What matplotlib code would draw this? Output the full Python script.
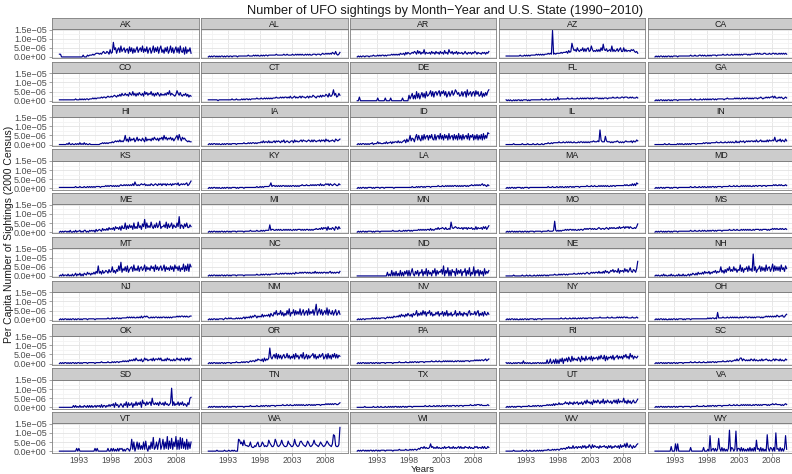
import numpy as np
import matplotlib
matplotlib.use("Agg")
import matplotlib.pyplot as plt

plt.rcParams['font.family'] = ['Liberation Sans', 'DejaVu Sans']

# ---------------- text ----------------
title = "Number of UFO sightings by Month\u2212Year and U.S. State (1990\u22122010)"
xlabel = "Years"
ylabel = "Per Capita Number of Sightings (2000 Census)"
x_ticks = [1993, 1998, 2003, 2008]
x_tick_labels = ["1993", "1998", "2003", "2008"]
y_ticks = [0.0, 5.0e-6, 1.0e-5, 1.5e-5]
y_tick_labels = ["0.0e+00", "5.0e\u221206", "1.0e\u221205", "1.5e\u221205"]

states = ["AK", "AL", "AR", "AZ", "CA",
          "CO", "CT", "DE", "FL", "GA",
          "HI", "IA", "ID", "IL", "IN",
          "KS", "KY", "LA", "MA", "MD",
          "ME", "MI", "MN", "MO", "MS",
          "MT", "NC", "ND", "NE", "NH",
          "NJ", "NM", "NV", "NY", "OH",
          "OK", "OR", "PA", "RI", "SC",
          "SD", "TN", "TX", "UT", "VA",
          "VT", "WA", "WI", "WV", "WY"]

# Values, one character per 2-month step starting Jan 1990
# (groups of 6 = one year). Character code: 0-9 then a-z, in units of 0.5e-6.
s_AK = "330000 000000 000000 000020 002122 232344 434356 446538 45g8a4 8a5c68 a5894b 6a4958 b58a6c 596b48 a47c5a 6b49c5 84a6b4 7c5a48 b5a4c6 5a3b48 6a4"
s_AL = "010101 101010 110101 101101 111011 111111 121111 212121 121212 212222 222322 222232 232222 322323 232322 323232 233323 332343 343434 354363 235"
s_AR = "010101 101110 111211 121212 212122 223232 323243 342535 434546 537463 548354 453645 364536 453745 385463 546354 453464 354535 465354 435453 546"
s_AZ = "111111 111111 121112 121212 222232 323232 333434 3t3434 444545 556475 6fa786 a7687a 6969a6 7c8676 8686a7 e87967 86c686 7968a6 6a6867 768786 564"
s_CA = "010101 101010 110101 111011 111111 111211 121112 212121 121212 222122 222322 232223 223232 323233 332323 333434 343334 433343 344343 343434 343"
s_CO = "111111 111111 111211 121212 122122 232323 333434 434544 545654 657586 686759 76a685 869768 5a7968 7a6858 697586 768697 b68765 7b8696 576857 465"
s_CT = "111111 111011 111111 111121 112111 121212 212122 222322 232232 323232 333433 343434 434353 345343 453544 345354 465435 546465 576485 57c684 586"
s_DE = "004000 000000 000000 030000 003000 030000 000000 300000 625826 2a3826 9483a5 68b5a4 9a69b5 a8b6a4 7a58b6 8ca795 6a59a4 c68a59 a5b7a5 6a4859 6ac"
s_FL = "101010 010101 101011 110101 111111 111211 121112 112121 412222 222322 232222 322323 232332 323233 332323 233323 333433 343334 434443 343433 343"
s_GA = "010101 101010 110101 111011 111111 111211 121111 211212 121212 212122 222212 232222 223232 322323 233232 323332 334323 343434 453533 343432 343"
s_HI = "000000 010200 100101 020102 010010 000000 001121 212122 232343 435343 5a4638 465735 846547 538465 647586 574768 5a6857 685746 8a5b74 867543 433"
s_IA = "010101 101010 010101 101011 110111 111211 121212 212122 232423 324232 342434 324352 343234 425343 345354 434543 535434 453545 364534 454365 456"
s_ID = "010101 101010 112011 131211 121312 231323 324232 345263 5a4763 8b5a64 a5b69a 5a7b65 b59a6c 6a5b7a 5c69a5 b6a5c6 a5b69a 6c5a8b 5a6b5a 6b5c6a 7dc"
s_IL = "000000 010000 000100 001000 010001 000100 111211 212222 232223 223232 322322 232332 323232 333433 343g53 339433 323233 343232 323433 334243 354"
s_IN = "000000 000100 010000 000101 010010 101011 110111 111212 212122 222322 232223 223232 322423 243342 343434 434353 345343 435354 454843 546354 364"
s_KS = "111111 111111 111211 121112 112121 212122 221222 232323 323232 323433 434343 435374 343454 453434 354345 435453 545354 453545 546345 454563 468"
s_KY = "010101 101010 010101 101011 110101 111011 111111 111211 212122 222362 332323 232332 323232 332323 233433 343334 343434 435343 454535 434543 354"
s_LA = "010101 101011 110101 111011 101111 111101 111111 111111 111211 121212 212122 221222 222322 232232 323232 332323 232332 323343 343434 345343 243"
s_MA = "010101 101011 110101 111011 111111 111111 111211 121112 112121 121212 212122 221222 222322 232232 223232 323232 232332 333333 334343 343535 365"
s_MD = "010101 101011 110101 111011 111111 111211 121112 112121 121212 212122 221222 222322 232232 223232 323232 232332 333233 323333 334343 343433 343"
s_ME = "010101 101020 010201 120102 201021 212031 232142 324253 435264 536274 4a3748 573a46 4b5739 6e4a57 5b6485 a57c46 685b49 57a486 5a6h48 7496a5 586"
s_MI = "010101 101010 110101 101011 110111 111011 111211 111211 121212 222823 322323 232232 323232 232323 332323 233232 323343 343535 452634 354265 364"
s_MN = "010101 101011 110101 111011 111111 111211 111211 121212 212122 222323 232323 324232 343534 454353 343b54 565454 453545 354453 436354 453646 357"
s_MO = "010101 101010 110101 101011 110111 111011 111211 112c21 212122 232323 323232 232332 343434 434343 345434 434543 545454 454645 564656 465445 469"
s_MS = "010101 101010 110101 111011 111111 111211 121112 112121 121212 212122 221222 222322 232232 223232 323232 232333 323233 332323 343434 334343 343"
s_MT = "010201 102010 201302 130203 214231 324253 b35263 465374 5a4637 5b6f48 6a5b47 9a5c68 6b59a6 8c5a79 6b8a5c 7a69b6 8c5a79 6b7a5c 8a6b59 7d5b6d 5da"
s_NC = "010101 101010 110101 101011 110111 111011 111111 111211 121212 212122 222322 232323 323232 332433 343434 434343 343534 343434 434345 343434 435"
s_ND = "000000 000000 000000 000000 000040 206040 503060 405260 604820 526043 705280 624063 806254 72b063 906074 508263 705480 629042 a06370 625082 536"
s_NE = "000000 010000 000100 010010 001001 010101 101011 111211 121212 212122 222322 232323 323432 343434 435343 536453 465746 548365 648574 695476 48g"
s_NH = "010100 102010 010201 001020 102010 120213 213142 324253 435243 546354 5a4637 486a57 5a6847 6c5948 7a5b68 5o6a47 8b5a69 5c69a5 8d5b6a 6a5c79 5b8"
s_NJ = "010101 101010 110101 101011 110111 111011 111111 111211 121212 212122 222323 232322 323242 343432 232323 323232 332323 232333 343434 434343 344"
s_NM = "010101 101011 110121 121211 112121 212313 232424 354243 436354 546375 486a57 6a5847 5a6c48 7b5a69 6c58b5 8a5c69 7b5ah5 9c6b58 a6d5b7 6a58b5 7a6"
s_NV = "010101 101111 112121 212122 221232 323243 343536 453647 546375 6a4758 5a6948 7a5846 586947 69485a 475846 6a4759 574867 48a576 6958a4 758496 586"
s_NY = "010101 101010 010101 101011 110101 111011 111111 111111 111211 121112 112121 121212 212122 221222 222322 222232 223222 232323 233232 222322 232"
s_OH = "010101 101010 010101 101011 110101 111011 111111 111111 121212 212182 222322 232232 323232 232323 332332 323233 332323 343434 343435 434453 356"
s_OK = "010101 101010 110101 101011 110111 111011 111211 111211 121212 212223 232324 343536 434352 364534 453635 546463 435364 534353 464536 453646 365"
s_OR = "010101 101010 110101 111011 112111 121212 212323 324354 435263 546h75 8a6b5a 6958a6 7b6958 6a5b79 58a6c5 7a5968 9b6a58 6a79b5 7a5b69 5a7b6a 698"
s_PA = "010101 101010 110101 101011 110111 111011 111211 111211 121212 212122 221222 222322 232232 223232 323232 232332 323233 332333 343434 344345 345"
s_RI = "101010 010101 101030 101010 010101 101010 104015 014050 405260 536274 283645 375284 638457 483756 748596 593847 685947 795868 597a68 5b7958 768"
s_SC = "010101 101010 110101 101011 110111 111211 121112 111211 121212 212122 222322 232332 334353 466354 343435 435343 343534 454343 345354 435343 354"
s_SD = "000000 000000 020201 020102 102020 201202 120302 202131 324052 302420 426052 350426 253608 452635 62a435 352643 526342 35l262 436253 624315 3ab"
s_TN = "010101 101010 110101 101011 110111 111011 111211 111211 121212 212122 221222 222322 232232 223232 323232 232332 323233 332333 343434 343443 345"
s_TX = "000000 010000 000100 010010 001001 010101 101010 110101 111011 111111 111211 121112 112121 121212 212122 212212 221222 222322 232333 232222 232"
s_UT = "010101 101011 110111 111211 121212 212122 223232 324243 353434 464536 453645 635463 574856 463857 586475 947586 574685 849576 6a5748 574685 579"
s_VA = "010101 101010 110101 101011 110111 111011 111211 111211 121212 212122 221222 222322 232232 223232 323232 232332 323233 332323 343343 333232 343"
s_VT = "000000 000000 000030 300000 000000 000303 000000 000300 303020 303230 202320 3d2a04 a29262 a2b306 2a3f24 a29e26 d2a3g2 b3e2a5 g2c2f3 e3a2d2 a3a"
s_WA = "000000 001000 000100 010010 1000dc 8a6c76 656a54 4658a5 56a856 56c975 57da65 68c865 56b875 57d865 6ab976 57b965 68c876 57a865 68b976 58ih65 57q"
s_WI = "010101 101010 110101 101011 110111 111011 111211 111211 121212 212324 435343 348453 435343 343534 453435 343453 534354 435343 354534 435353 354"
s_WV = "000000 010000 000100 010010 001001 010101 111211 121212 212323 324353 436345 354536 463547 537465 453645 564536 463546 546374 658495 475364 578"
s_WY = "000000 000000 000500 080800 000000 000400 000000 000400 020h02 30302e 304030 203n04 302m03 304030 203040 3040c2 304030 20i304 3040k2 304030 3h2"

series_codes = {st: globals()["s_" + st] for st in states}

START_YEAR = 1990
STEP_YEARS = 2 / 12
UNIT = 0.5e-6
CODE = "0123456789abcdefghijklmnopqrstuvwxyz"


def decode(code):
    code = code.replace(" ", "")
    vals = np.array([CODE.index(ch) for ch in code], dtype=float) * UNIT
    years = START_YEAR + np.arange(len(vals)) * STEP_YEARS
    return years, vals


# ---------------- layout (pixels) ----------------
W, H = 792, 474
fig = plt.figure(figsize=(W / 100, H / 100), dpi=100)
fig.patch.set_facecolor("white")

col_left0, col_pitch, col_w = 52.3, 148.9, 146.3
strip_top0, row_pitch, strip_h, panel_h = 17.7, 43.8, 11.5, 29.1

border_col = "#7f7f7f"
line_col = "#00008B"
tick_lab_col = "#4d4d4d"

for i, st in enumerate(states):
    r, c = divmod(i, 5)
    left = col_left0 + c * col_pitch
    stop = strip_top0 + r * row_pitch
    ptop = stop + strip_h
    pbot = ptop + panel_h

    ax = fig.add_axes([left / W, 1 - pbot / H, col_w / W, panel_h / H])
    sax = fig.add_axes([left / W, 1 - ptop / H, col_w / W, strip_h / H])

    # strip
    sax.set_facecolor("#cccccc")
    sax.set_xticks([])
    sax.set_yticks([])
    for sp in sax.spines.values():
        sp.set_color(border_col)
        sp.set_linewidth(0.6)
    sax.text(0.5, 0.45, st, transform=sax.transAxes, ha="center", va="center",
             fontsize=6.3, color="#1a1a1a")

    # panel
    yrs, vals = decode(series_codes[st])
    ax.plot(yrs, vals, color=line_col, lw=0.85, zorder=3)
    ax.set_xlim(1988.9, 2011.5)
    ax.set_ylim(-0.75e-6, 1.52e-5)
    ax.set_xticks(x_ticks)
    ax.set_xticks([1990.5, 1995.5, 2000.5, 2005.5, 2010.5], minor=True)
    ax.set_yticks(y_ticks)
    ax.set_yticks([2.5e-6, 7.5e-6, 1.25e-5], minor=True)
    ax.grid(which="minor", color="#f3f3f3", lw=0.6, zorder=0)
    ax.grid(which="major", color="#e3e3e3", lw=0.6, zorder=1)
    ax.set_axisbelow(True)
    for sp in ax.spines.values():
        sp.set_color(border_col)
        sp.set_linewidth(0.6)
    ax.tick_params(which="minor", length=0)
    ax.tick_params(which="major", color=border_col, width=0.5, length=2.5,
                   labelsize=6.5, labelcolor=tick_lab_col, pad=1.5)
    ax.tick_params(axis="x", which="major", pad=0.4, length=2.0, labelsize=6.2)
    if c == 0:
        ax.set_yticklabels(y_tick_labels)
    else:
        ax.tick_params(axis="y", which="major", length=0, labelleft=False)
    if r == 9:
        ax.set_xticklabels(x_tick_labels)
    else:
        ax.tick_params(axis="x", which="major", length=0, labelbottom=False)

fig.text(445 / W, 1 - 11 / H, title, ha="center", va="center", fontsize=9.2,
         color="#1a1a1a")
fig.text(423 / W, 1 - 473.8 / H, xlabel, ha="center", va="bottom", fontsize=6.8,
         color="#1a1a1a")
fig.text(9 / W, 1 - 234 / H, ylabel, ha="center", va="center", fontsize=7.5,
         rotation=90, color="#1a1a1a")

fig.savefig("out.png", dpi=100, facecolor="white")
